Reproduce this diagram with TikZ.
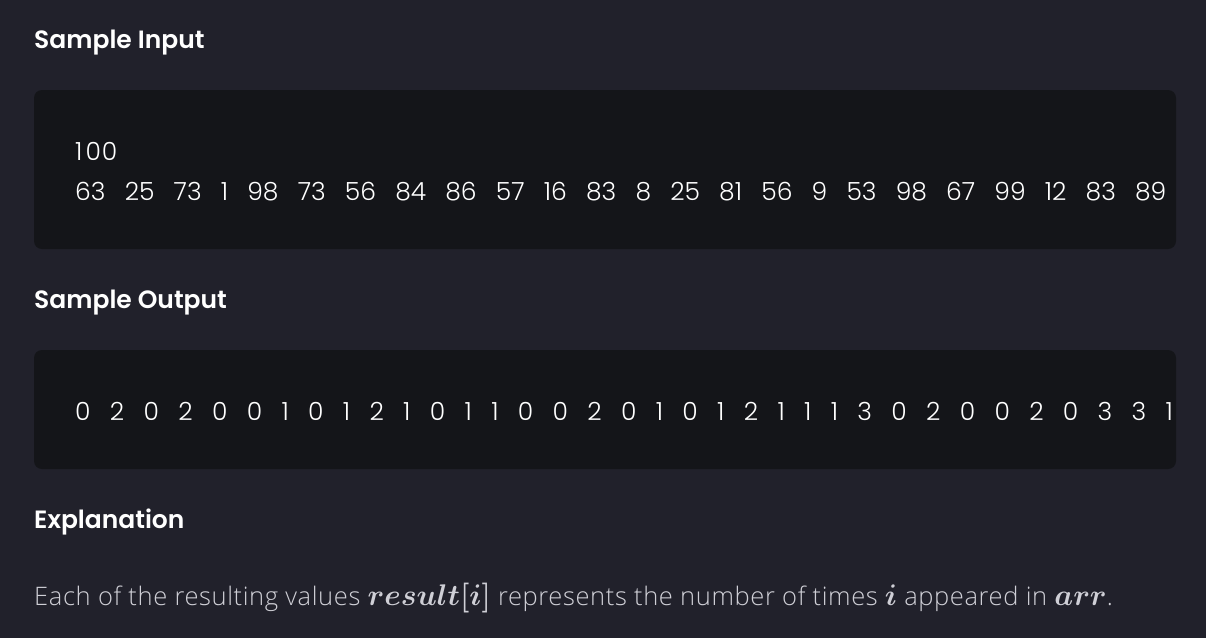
\documentclass[tikz,border=0pt]{standalone}
\usepackage{fontspec}
\setmainfont{Poppins}
\newfontfamily\headfont{Poppins SemiBold}
\newfontfamily\numfont{Poppins Light}
\newfontfamily\bodyfont[LetterSpace=2.4]{Open Sans Light}
\definecolor{bg}{HTML}{21212B}
\definecolor{boxbg}{HTML}{141519}
\definecolor{bodytxt}{HTML}{CFCFD6}
\newcommand\ngap{\hspace{19.2pt}}
\newcommand\dgap{\hspace{19.35pt}}
\newcommand\mth[1]{\scalebox{1.2}{\boldmath$#1$}}
\tikzset{
  panel/.style={fill=boxbg, draw=none, rounded corners=8pt},
  heading/.style={anchor=base west, inner sep=0pt, text=white, font=\headfont\fontsize{25}{30}\selectfont},
  numtxt/.style={anchor=base west, inner sep=0pt, text=white, font=\numfont\fontsize{25}{30}\selectfont},
  body/.style={anchor=base west, inner sep=0pt, text=bodytxt, font=\bodyfont\fontsize{25.5}{30}\selectfont},
}
\begin{document}
\begin{tikzpicture}[x=1pt,y=-1pt]
\fill[bg] (0,0) rectangle (1206,638);
\useasboundingbox (0,0) rectangle (1206,638);
\node[heading] (h1) at (34,48) {Sample Input};
\fill[panel] (34,90) rectangle (1176,249);
\node[numtxt] (n1) at (75,160) {1\kern3pt0\kern1pt0};
\node[numtxt] (n2) at (75,200) {63\ngap 25\ngap 73\ngap 1\ngap 98\ngap 73\ngap 56\ngap 84\ngap 86\ngap 57\ngap 16\ngap 83\ngap 8\ngap 25\ngap 81\ngap 56\ngap 9\ngap 53\ngap 98\ngap 67\ngap 99\ngap 12\ngap 83\ngap 89};
\node[heading] (h2) at (34,308) {Sample Output};
\fill[panel] (34,350) rectangle (1176,469);
\node[numtxt] (o1) at (75,420) {0\dgap 2\dgap 0\dgap 2\dgap 0\dgap 0\dgap 1\dgap 0\dgap 1\dgap 2\dgap 1\dgap 0\dgap 1\dgap 1\dgap 0\dgap 0\dgap 2\dgap 0\dgap 1\dgap 0\dgap 1\dgap 2\dgap 1\dgap 1\dgap 1\dgap 3\dgap 0\dgap 2\dgap 0\dgap 0\dgap 2\dgap 0\dgap 3\dgap 3\dgap 1};
\node[heading] (h3) at (34,528) {Explanation};
\node[body] (e1) at (34,605) {Each of the resulting values \mth{result[i]} represents the number of times \mth{i} appeared in \mth{arr}.};
\end{tikzpicture}
\end{document}
